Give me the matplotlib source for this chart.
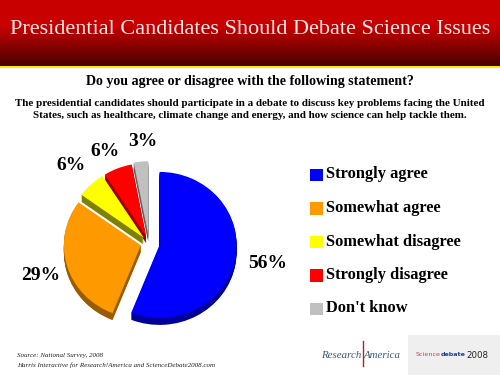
import numpy as np
import matplotlib
matplotlib.use('Agg')
import matplotlib.pyplot as plt
from matplotlib.patches import Rectangle

plt.rcParams['font.family'] = ['Liberation Serif', 'DejaVu Serif']

title = 'Presidential Candidates Should Debate Science Issues'
question = 'Do you agree or disagree with the following statement?'
statement = ('The presidential candidates should participate in a debate to discuss key problems facing the United\n'
             'States, such as healthcare, climate change and energy, and how science can help tackle them.')
labels = ['Strongly agree', 'Somewhat agree', 'Somewhat disagree', 'Strongly disagree', "Don't know"]
values = [56, 29, 6, 6, 3]
colors = ['#0000ff', '#ff9900', '#ffff00', '#ff0000', '#c0c0c0']
dark = ['#000099', '#995c00', '#808000', '#990000', '#606060']
explode = [0.14, 0.11, 0.10, 0.10, 0.12]
pct_x = [268, 41, 71, 105, 143]
pct_y = [263, 275, 166, 152, 142]

fig = plt.figure(figsize=(5, 3.75), dpi=100, facecolor='white')

# page layer in pixels
bg = fig.add_axes([0, 0, 1, 1])

grad = np.zeros((67, 1, 3))
grad[:, 0, 0] = np.concatenate([np.full(25, 0.79), np.linspace(0.79, 0.30, 42)])
bg.imshow(grad, extent=(0, 500, 66, 0), aspect='auto', zorder=1)
bg.set_xlim(0, 500)
bg.set_ylim(375, 0)
bg.axis('off')
bg.add_patch(Rectangle((0, 66), 500, 2.2, color='#ffe800', lw=0, zorder=2))

bg.text(250, 30, title, color='#fbe8e8', fontsize=16, ha='center', va='center', zorder=3)
bg.text(250, 81, question, color='black', fontsize=10.05, weight='bold', ha='center', va='center')
bg.text(250, 109.5, statement, color='black', fontsize=7.95, weight='bold', ha='center', va='center',
        linespacing=1.4)

# legend
for i, lab in enumerate(labels):
    y = 174.5 + i * 33.5
    bg.add_patch(Rectangle((310, y - 6), 12.5, 12.5, color=colors[i], lw=0))
    bg.text(326, y, lab, color='black', fontsize=11.8, weight='bold', ha='left', va='center')

for i, v in enumerate(values):
    bg.text(pct_x[i], pct_y[i], '%d%%' % v, color='black', fontsize=14, weight='bold',
            ha='center', va='center')

# footer
bg.text(17, 356, 'Source: National Survey, 2008', color='#222222', fontsize=5, style='italic', va='center')
bg.text(17, 365, 'Harris Interactive for Research!America and ScienceDebate2008.com', color='#222222',
        fontsize=5, style='italic', va='center')

bg.add_patch(Rectangle((408, 335), 92, 40, color='#efefef', lw=0))
bg.text(361, 356, 'Research', color='#3a5a78', fontsize=7.8, style='italic', ha='right', va='center')
bg.text(364, 356, 'America', color='#3a5a78', fontsize=7.8, style='italic', ha='left', va='center')
bg.plot([362.5, 362.5], [341, 366], color='#b02030', lw=1)
bg.text(416, 355, 'Science', color='#d04040', fontsize=4.6, family='DejaVu Sans', va='center')
bg.text(441, 355, 'debate', color='#2040a0', fontsize=4.6, family='DejaVu Sans', weight='bold', va='center')
bg.text(466, 355, '2008', color='#222222', fontsize=6.2, family='DejaVu Sans', va='center')

# pie: pixel-sized axes, squashed a little
ax = fig.add_axes([0, 0, 1, 1], facecolor='none')
cx, cy = 149, 243
rx, ry = 77, 73
for off in range(7, -1, -1):
    cols = colors if off == 0 else dark
    ax.pie(values, explode=explode, colors=cols, startangle=90, counterclock=False, radius=1,
           center=(0, -off / ry), frame=False, wedgeprops={'linewidth': 0})
ax.set_aspect('auto')
ax.set_xlim(-cx / rx, (500 - cx) / rx)
ax.set_ylim(-(375 - cy) / ry, cy / ry)
ax.axis('off')

fig.savefig('out.png', dpi=100)
